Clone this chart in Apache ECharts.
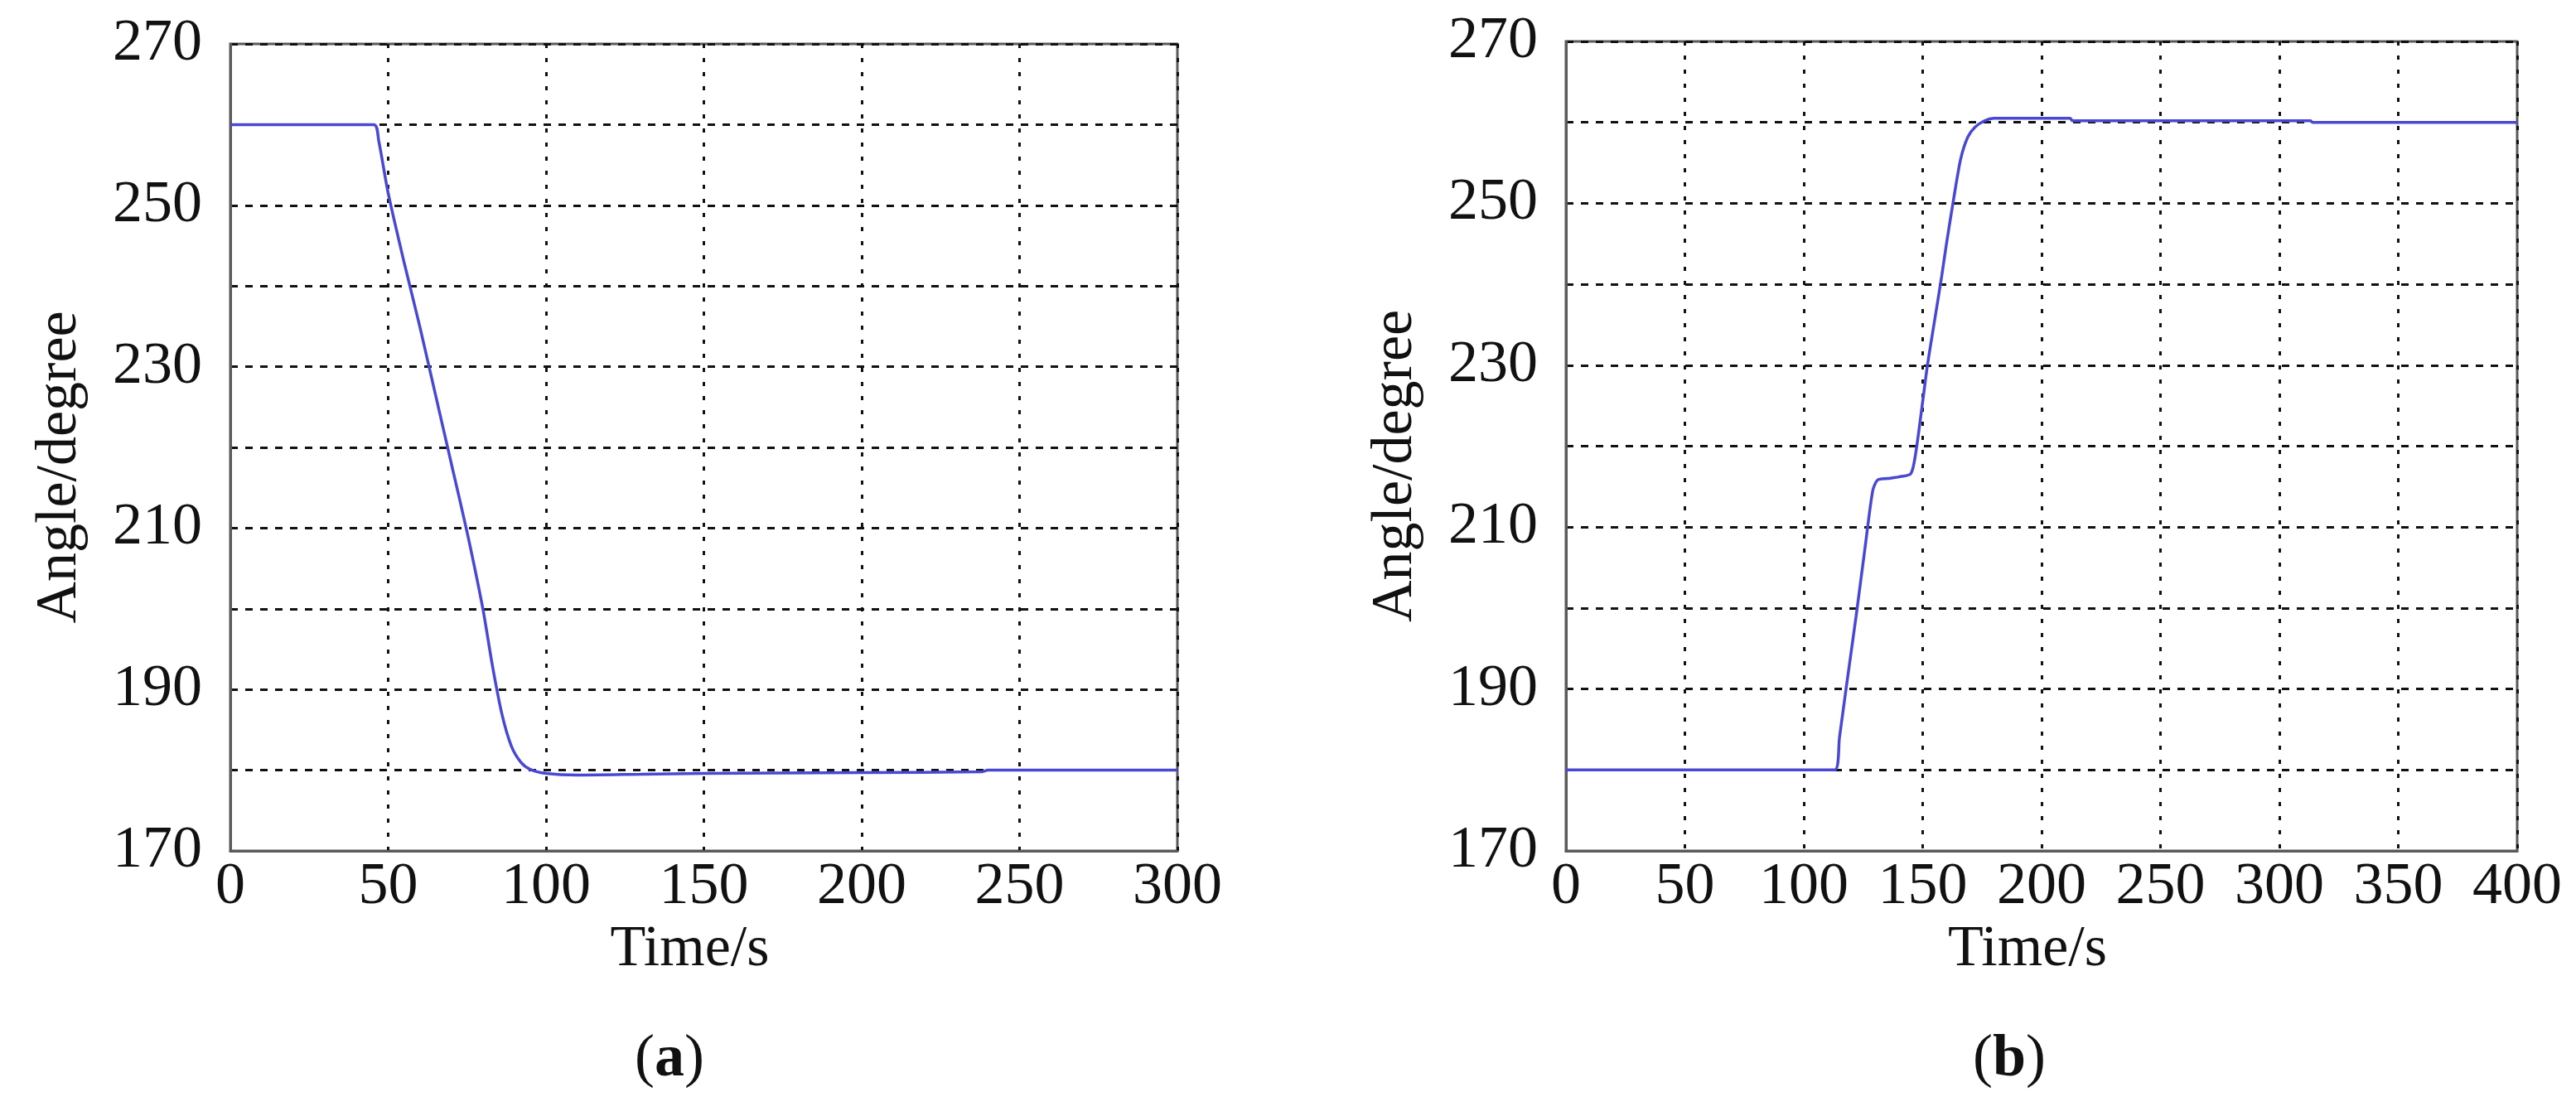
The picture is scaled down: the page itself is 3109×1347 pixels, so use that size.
<!DOCTYPE html>
<html>
<head>
<meta charset="utf-8">
<script src="https://cdn.jsdelivr.net/npm/echarts@6/dist/echarts.min.js"></script>
<style>
html,body{margin:0;padding:0;background:#fff;}
#chart{width:3109px;height:1347px;}
</style>
</head>
<body>
<div id="chart"></div>
<script>
// ---- data ----
const panelLabels = ['a', 'b'];
const xNameText = 'Time/s';
const yNameText = 'Angle/degree';
const yMin = 170, yMax = 270, yStep = 10, yLabelStep = 20;
const xMaxA = 300, xMaxB = 400, xStep = 50;

// (a) angle vs time: 260 -> 180
const timeA  = [0, 45.5, 47, 50, 55, 60, 65, 70, 75, 80, 83, 86, 89, 92, 95, 100, 110, 130, 150, 200, 238, 240, 300];
const angleA = [260, 260, 258, 251.5, 243, 235, 226.5, 218, 209.5, 200, 193, 187, 183, 181, 180.1, 179.6, 179.4, 179.5, 179.6, 179.7, 179.8, 180, 180];

// (b) angle vs time: 180 -> 216 -> 260
const timeB  = [0, 113, 115, 118, 122, 126, 129, 131, 135, 140, 145, 147, 150, 152, 155, 158, 160, 163, 166, 169, 172, 176, 180, 212, 213, 313, 314, 400];
const angleB = [180, 180, 184, 190.5, 199, 208, 214.5, 215.8, 216, 216.2, 216.6, 219, 225.5, 230, 235.5, 241, 245, 250.5, 255.5, 258.2, 259.4, 260.2, 260.5, 260.5, 260.2, 260.2, 260, 260];

// ---- chart ----
const pairs = (xs, ys) => xs.map((x, i) => [x, ys[i]]);
const FONT = '"Liberation Serif", "Times New Roman", serif';
const frameColor = '#5a5a5a';
const lineColor = '#4848d4';

function xAxisFor(idx, max) {
  return {
    type: 'value', gridIndex: idx, min: 0, max: max, interval: xStep,
    name: xNameText, nameLocation: 'middle', nameGap: 78,
    nameTextStyle: { fontFamily: FONT, fontSize: 70, color: '#111', padding: [0, 34, 0, 0] },
    axisLine: { show: true, lineStyle: { color: frameColor, width: 3 } },
    axisTick: { show: false },
    axisLabel: { margin: 8, fontFamily: FONT, fontSize: 72, color: '#111' },
    splitLine: { show: true, lineStyle: { color: '#111', width: 3, type: [5, 12] } }
  };
}
function yAxisFor(idx) {
  return {
    type: 'value', gridIndex: idx, min: yMin, max: yMax, interval: yStep,
    name: yNameText, nameLocation: 'middle', nameGap: 170,
    nameTextStyle: { fontFamily: FONT, fontSize: 70, color: '#111', padding: [0, 48, 0, 0] },
    axisLine: { show: true, lineStyle: { color: frameColor, width: 3 } },
    axisTick: { show: false },
    axisLabel: {
      margin: 34, fontFamily: FONT, fontSize: 72, color: '#111',
      formatter: v => ((v - yMin) % yLabelStep === 0 ? String(v) : '')
    },
    splitLine: { show: true, lineStyle: { color: '#111', width: 3, type: [9, 9] } }
  };
}

const chart = echarts.init(document.getElementById('chart'), null, { renderer: 'canvas' });
chart.setOption({
  backgroundColor: '#fff',
  animation: false,
  title: panelLabels.map((p, i) => ({
    text: '{n|(}{b|' + p + '}{n|)}',
    left: i === 0 ? 803 : 2420,
    top: 1238,
    textAlign: 'center',
    textStyle: {
      fontWeight: 'normal',
      rich: {
        n: { fontFamily: FONT, fontSize: 72, fontWeight: 'normal', color: '#111' },
        b: { fontFamily: FONT, fontSize: 72, fontWeight: 'bold', color: '#111' }
      }
    }
  })),
  grid: [
    { left: 278, right: 3109 - 1421, top: 53, bottom: 1347 - 1027, show: true, borderColor: frameColor, borderWidth: 3, containLabel: false },
    { left: 1890, right: 3109 - 3038, top: 50, bottom: 1347 - 1027, show: true, borderColor: frameColor, borderWidth: 3, containLabel: false }
  ],
  xAxis: [xAxisFor(0, xMaxA), xAxisFor(1, xMaxB)],
  yAxis: [yAxisFor(0), yAxisFor(1)],
  series: [
    { type: 'line', xAxisIndex: 0, yAxisIndex: 0, data: pairs(timeA, angleA), showSymbol: false, smooth: 0.25,
      lineStyle: { color: lineColor, width: 3.5 }, z: 3 },
    { type: 'line', xAxisIndex: 1, yAxisIndex: 1, data: pairs(timeB, angleB), showSymbol: false, smooth: 0.25,
      lineStyle: { color: lineColor, width: 3.5 }, z: 3 }
  ]
});
</script>
</body>
</html>
